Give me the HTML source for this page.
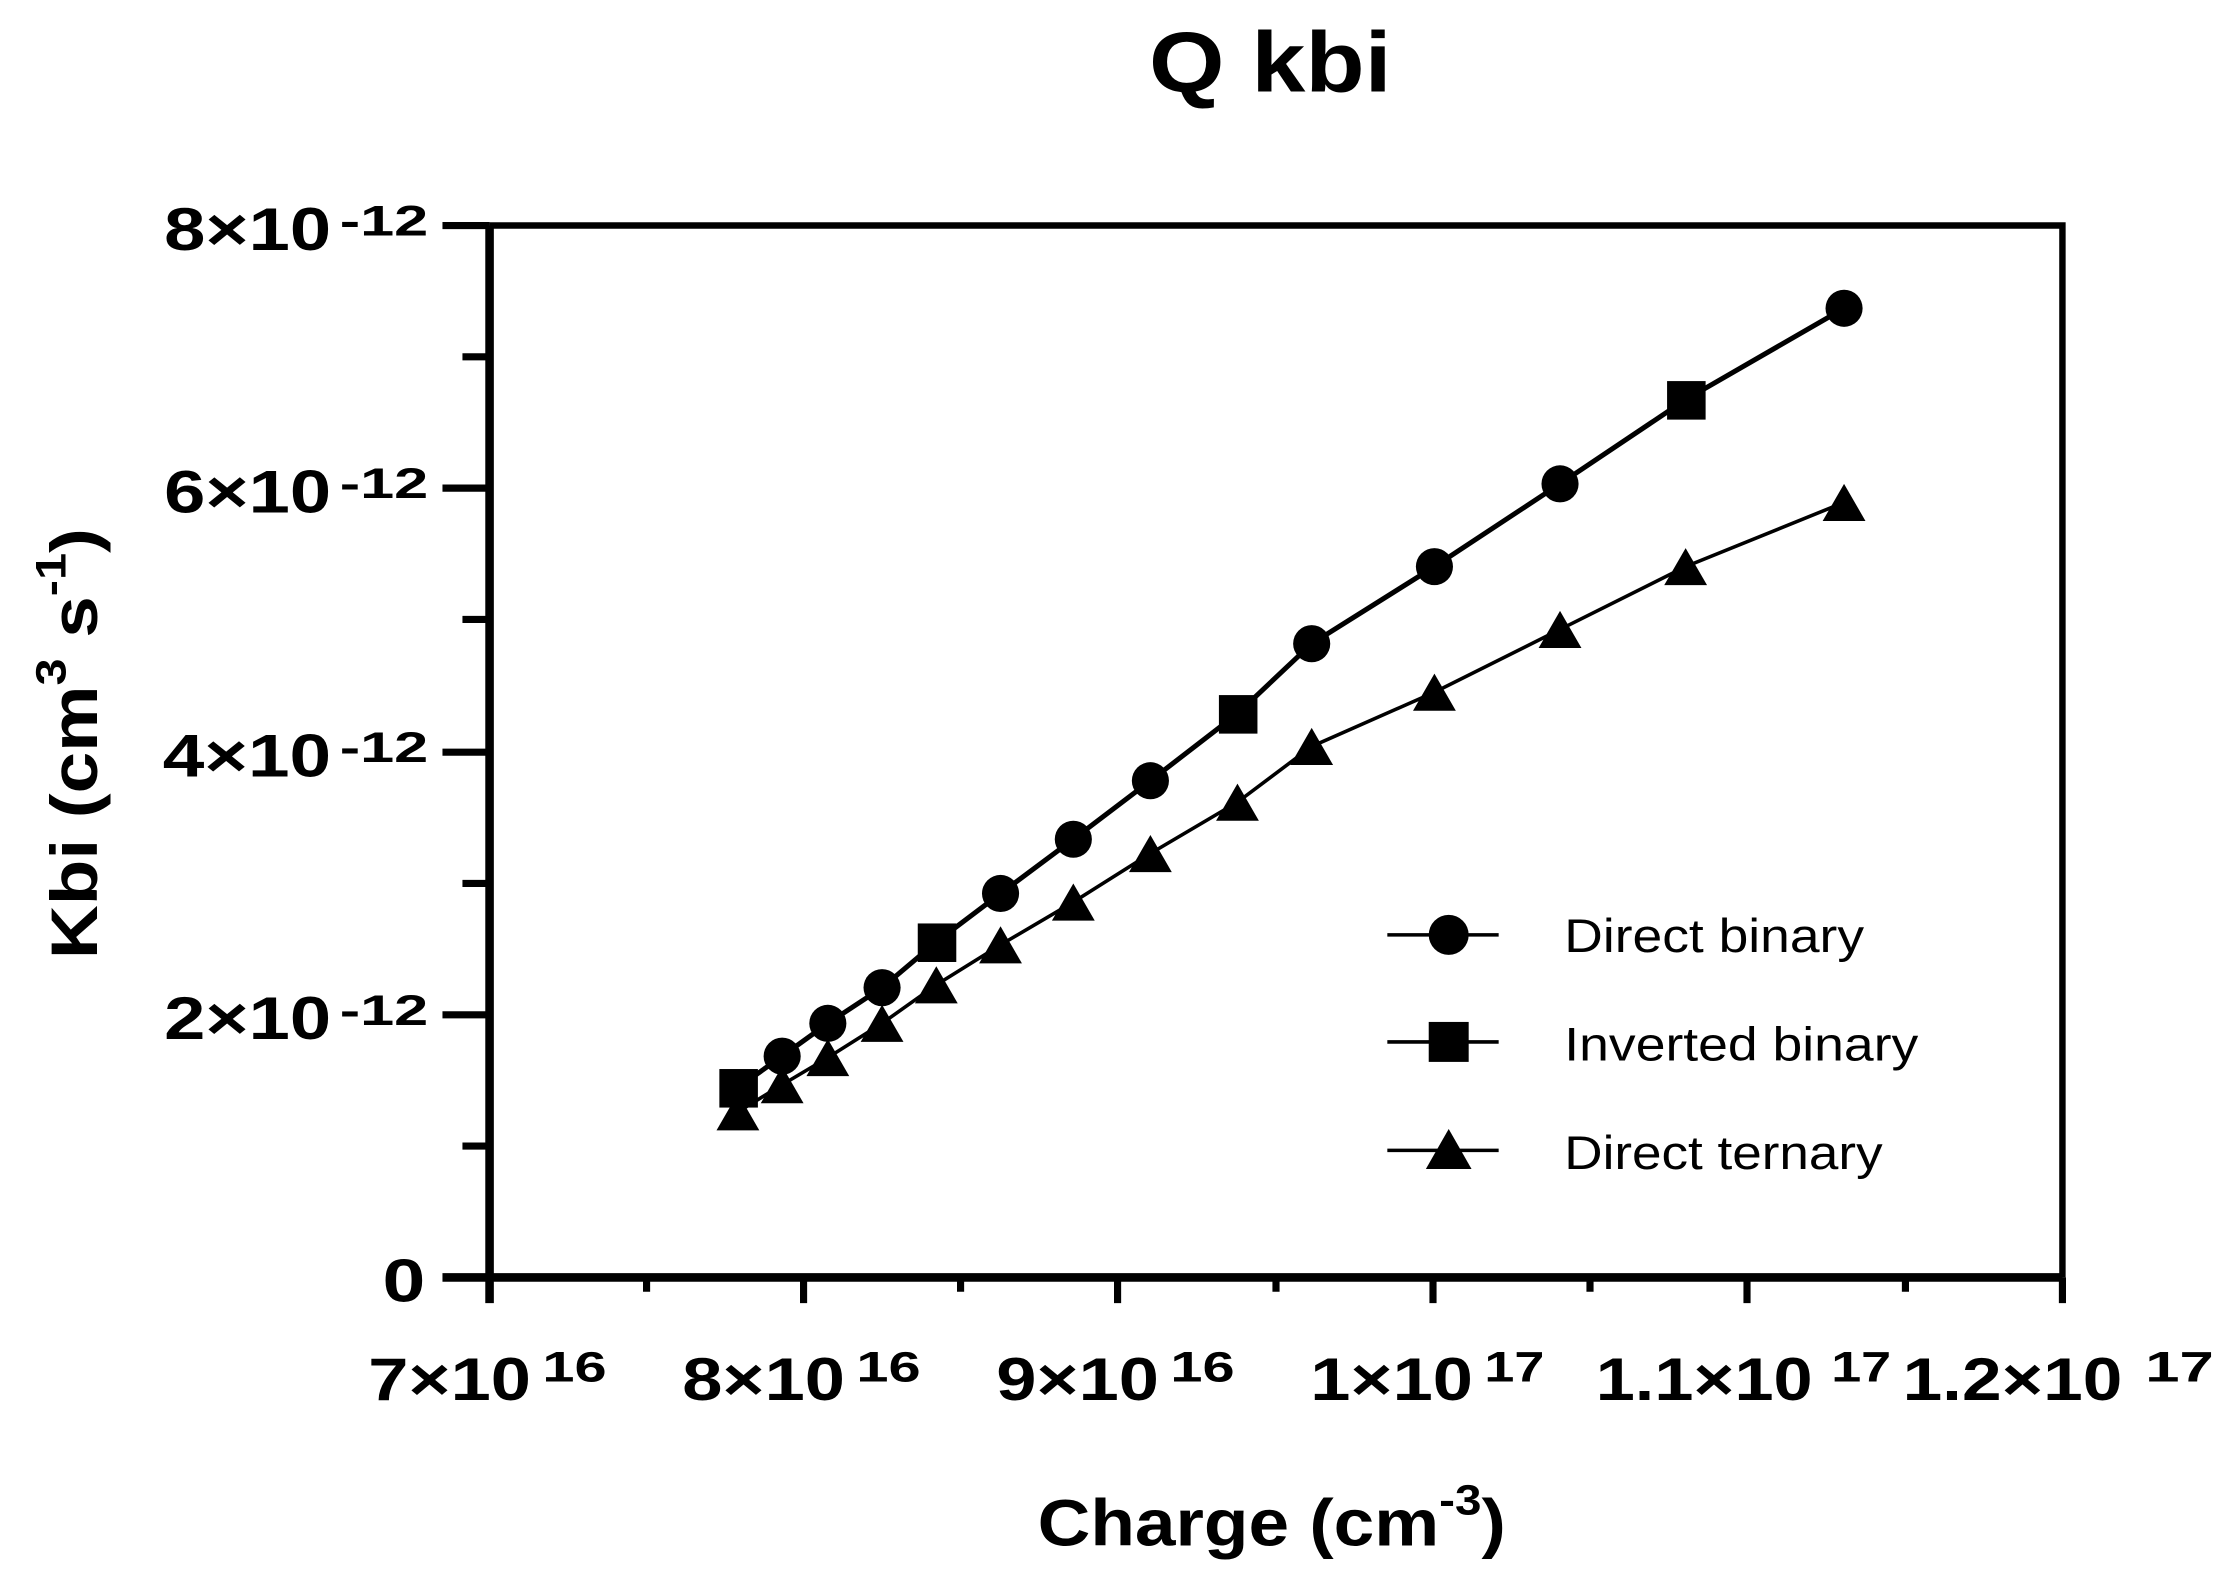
<!DOCTYPE html>
<html><head><meta charset="utf-8"><style>html,body{margin:0;padding:0;background:#fff}svg{display:block}</style></head>
<body>
<svg width="2238" height="1582" viewBox="0 0 1568 1108.4" xmlns="http://www.w3.org/2000/svg" font-family="Liberation Sans, Arial, sans-serif">
<rect width="1568" height="1108.4" fill="#fff"/>
<text x="805" y="64" font-size="60" font-weight="bold" textLength="170" lengthAdjust="spacingAndGlyphs">Q kbi</text>
<!-- axes frame -->
<path d="M343,158 H1445 V895" fill="none" stroke="#000" stroke-width="4.5"/>
<path d="M343,158 V913 M310,895 H1445" fill="none" stroke="#000" stroke-width="6"/>
<g stroke="#000" stroke-width="5">
<path d="M310,158H343 M310,342H343 M310,527H343 M310,711H343"/>
<path d="M324,250H343 M324,434H343 M324,619H343 M324,803H343"/>
<path d="M563,895V913 M783,895V913 M1004,895V913 M1224,895V913 M1445,895V913"/>
<path d="M453,895V905 M673,895V905 M894,895V905 M1114,895V905 M1335,895V905"/>
</g>
<g font-size="42" font-weight="bold" lengthAdjust="spacingAndGlyphs">
<text x="115" y="175" textLength="117" lengthAdjust="spacingAndGlyphs">8×10</text>
<text x="115" y="359" textLength="117" lengthAdjust="spacingAndGlyphs">6×10</text>
<text x="114" y="544" textLength="118" lengthAdjust="spacingAndGlyphs">4×10</text>
<text x="115" y="728" textLength="117" lengthAdjust="spacingAndGlyphs">2×10</text>
<text x="268" y="912" textLength="30" lengthAdjust="spacingAndGlyphs">0</text>
</g>
<g font-size="30" font-weight="bold">
<text x="238" y="165" textLength="62" lengthAdjust="spacingAndGlyphs">-12</text>
<text x="238" y="349" textLength="62" lengthAdjust="spacingAndGlyphs">-12</text>
<text x="238" y="534" textLength="62" lengthAdjust="spacingAndGlyphs">-12</text>
<text x="238" y="718" textLength="62" lengthAdjust="spacingAndGlyphs">-12</text>
</g>
<g font-size="42" font-weight="bold">
<text x="258" y="981" textLength="114" lengthAdjust="spacingAndGlyphs">7×10</text><text x="380" y="968" font-size="30" textLength="45" lengthAdjust="spacingAndGlyphs">16</text>
<text x="478" y="981" textLength="114" lengthAdjust="spacingAndGlyphs">8×10</text><text x="600" y="968" font-size="30" textLength="45" lengthAdjust="spacingAndGlyphs">16</text>
<text x="698" y="981" textLength="114" lengthAdjust="spacingAndGlyphs">9×10</text><text x="820" y="968" font-size="30" textLength="45" lengthAdjust="spacingAndGlyphs">16</text>
<text x="918" y="981" textLength="114" lengthAdjust="spacingAndGlyphs">1×10</text><text x="1040" y="968" font-size="30" textLength="42" lengthAdjust="spacingAndGlyphs">17</text>
<text x="1118" y="981" textLength="152" lengthAdjust="spacingAndGlyphs">1.1×10</text><text x="1283" y="968" font-size="30" textLength="42" lengthAdjust="spacingAndGlyphs">17</text>
<text x="1333" y="981" textLength="154" lengthAdjust="spacingAndGlyphs">1.2×10</text><text x="1503" y="968" font-size="30" textLength="48" lengthAdjust="spacingAndGlyphs">17</text>
</g>
<text x="727" y="1083" font-size="46" font-weight="bold" textLength="328" lengthAdjust="spacingAndGlyphs">Charge (cm<tspan font-size="30" dy="-22">-3</tspan><tspan dy="22">)</tspan></text>
<text transform="translate(68,672) rotate(-90)" font-size="46" font-weight="bold" textLength="302" lengthAdjust="spacingAndGlyphs">Kbi (cm<tspan font-size="30" dy="-22">3</tspan><tspan dy="22"> s</tspan><tspan font-size="30" dy="-22">-1</tspan><tspan dy="22">)</tspan></text>
<!-- series -->
<polyline fill="none" stroke="#000" stroke-width="3.5" points="517,762 548,740 580,717 618,692 656,660 701,626 752,588 806,547 867,500 919,451 1005,397 1093,339 1181,280 1292,216"/>
<polyline fill="none" stroke="#000" stroke-width="2.5" points="517,779 548,760 580,741 618,717 656,690 701,662 752,632 806,598 867,562 919,523 1005,485 1093,441 1181,397 1292,352"/>
<g fill="#000">
<circle cx="548" cy="740" r="13"/><circle cx="580" cy="717" r="13"/><circle cx="618" cy="692" r="13"/><circle cx="701" cy="626" r="13"/><circle cx="752" cy="588" r="13"/><circle cx="806" cy="547" r="13"/><circle cx="919" cy="451" r="13"/><circle cx="1005" cy="397" r="13"/><circle cx="1093" cy="339" r="13"/><circle cx="1292" cy="216" r="13"/>
<rect x="504" y="749" width="27" height="27"/><rect x="643" y="647" width="27" height="27"/><rect x="854" y="487" width="27" height="27"/><rect x="1168" y="267" width="27" height="27"/>
</g>
<g fill="#000">
<path d="M517,766l-15,26h30z"/><path d="M548,747l-15,26h30z"/><path d="M580,728l-15,26h30z"/><path d="M618,704l-15,26h30z"/><path d="M656,677l-15,26h30z"/><path d="M701,649l-15,26h30z"/><path d="M752,619l-15,26h30z"/><path d="M806,585l-15,26h30z"/><path d="M867,549l-15,26h30z"/><path d="M919,510l-15,26h30z"/><path d="M1005,472l-15,26h30z"/><path d="M1093,428l-15,26h30z"/><path d="M1181,384l-15,26h30z"/><path d="M1292,339l-15,26h30z"/>
</g>
<!-- legend -->
<g stroke="#000" stroke-width="2.5"><path d="M972,655H1050 M972,730H1050 M972,806H1050"/></g>
<circle cx="1015" cy="655" r="14" fill="#000"/>
<rect x="1001" y="716" width="28" height="28" fill="#000"/>
<path d="M1015,791l-16,28h32z" fill="#000"/>
<g font-size="33">
<text x="1096" y="667" textLength="210" lengthAdjust="spacingAndGlyphs">Direct binary</text>
<text x="1096" y="743" textLength="248" lengthAdjust="spacingAndGlyphs">Inverted binary</text>
<text x="1096" y="819" textLength="223" lengthAdjust="spacingAndGlyphs">Direct ternary</text>
</g>
</svg>
</body></html>
